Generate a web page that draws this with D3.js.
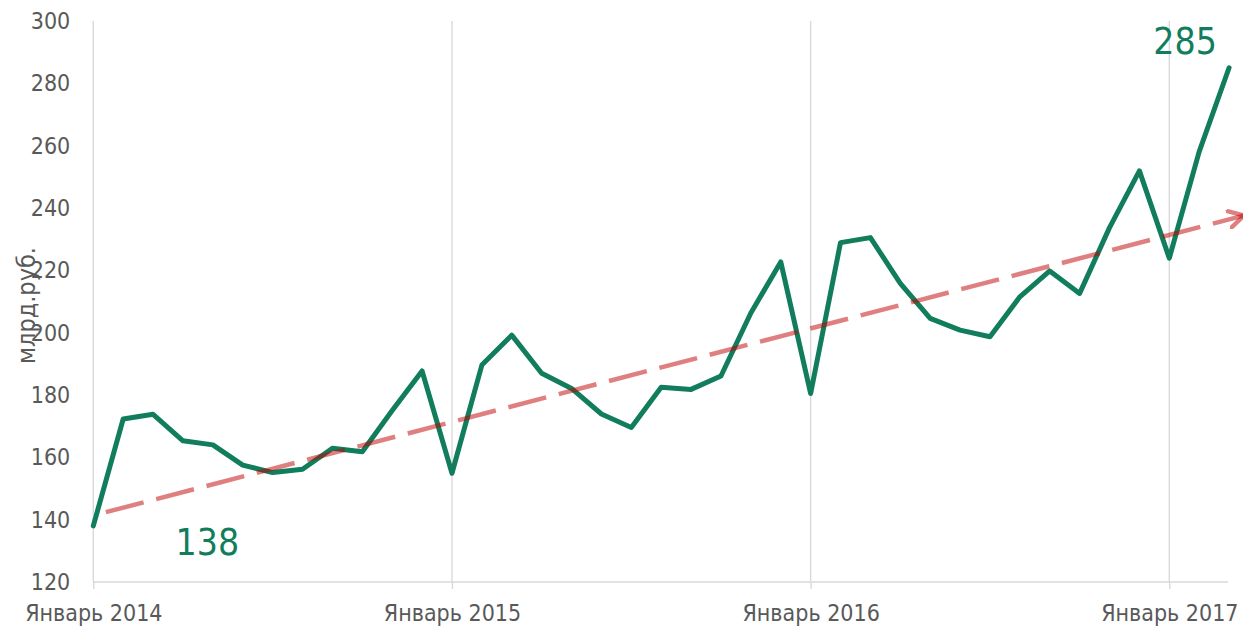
<!DOCTYPE html>
<html>
<head>
<meta charset="utf-8">
<script src="https://cdn.jsdelivr.net/npm/d3@7"></script>
<style>
  html, body { margin: 0; padding: 0; background: #fff; }
  svg { display: block; }
  text { font-family: "DejaVu Sans Condensed", "DejaVu Sans", sans-serif; font-stretch: condensed; }
</style>
</head>
<body>
<svg id="chart" width="1243" height="626"></svg>
<script>
// ---- data ----
const months = [
  "2014-01","2014-02","2014-03","2014-04","2014-05","2014-06","2014-07","2014-08","2014-09","2014-10","2014-11","2014-12",
  "2015-01","2015-02","2015-03","2015-04","2015-05","2015-06","2015-07","2015-08","2015-09","2015-10","2015-11","2015-12",
  "2016-01","2016-02","2016-03","2016-04","2016-05","2016-06","2016-07","2016-08","2016-09","2016-10","2016-11","2016-12",
  "2017-01","2017-02","2017-03"
];
const values = [
  138, 172.3, 173.8, 165.3, 164.0, 157.5, 155.1, 156.2, 162.9, 161.8, 175.0, 187.7,
  154.9, 189.6, 199.2, 187.0, 182.1, 173.9, 169.6, 182.5, 181.8, 186.1, 206.3, 222.7,
  180.5, 228.9, 230.5, 215.8, 204.6, 200.8, 198.7, 211.5, 219.8, 212.6, 233.7, 251.9,
  223.9, 258.1, 285
];
const xTickIndex = [0, 12, 24, 36];
const xTickLabels = ["Январь 2014", "Январь 2015", "Январь 2016", "Январь 2017"];
const yTicks = [120, 140, 160, 180, 200, 220, 240, 260, 280, 300];
const trendIndex = [0.42, 38.5];
const trendValues = [142.4, 237.6];
const yTitle = "млрд.руб.";
const labelIndex = [0, 38];

// ---- layout ----
const svg = d3.select("#chart");
const x = d3.scaleLinear().domain([0, 36]).range([93.3, 1169.3]);
const y = d3.scaleLinear().domain([120, 300]).range([582, 21]);
const green = "#117D5C";
const grid = "#d9d9d9";
const textCol = "#595959";

// vertical gridlines (including left edge)
svg.append("g").selectAll("line").data(xTickIndex).join("line")
  .attr("x1", d => x(d)).attr("x2", d => x(d))
  .attr("y1", y(300)).attr("y2", y(120))
  .attr("stroke", grid).attr("stroke-width", 1.4);

// x axis
const xAxis = d3.axisBottom(x).tickValues(xTickIndex)
  .tickFormat((d, i) => xTickLabels[i]).tickSize(7).tickSizeOuter(0);
const gx = svg.append("g").attr("transform", `translate(0,${y(120)})`).call(xAxis);
gx.select(".domain").attr("d", `M${x(0)},0H1228`).attr("stroke", grid).attr("stroke-width", 1.4);
gx.selectAll(".tick line").attr("stroke", grid).attr("stroke-width", 1.4);
gx.selectAll(".tick text").attr("y", 39).attr("dy", 0)
  .attr("fill", textCol).style("font-size", "23px");

// y axis
const yAxis = d3.axisLeft(y).tickValues(yTicks).tickSize(0).tickPadding(23);
const gy = svg.append("g").attr("transform", `translate(${x(0)},0)`).call(yAxis);
gy.select(".domain").remove();
gy.selectAll(".tick text").attr("fill", textCol).style("font-size", "23px");

// y title
svg.append("text")
  .attr("transform", `translate(35,${(y(120) + y(300)) / 2 + 4}) rotate(-90)`)
  .attr("text-anchor", "middle").attr("fill", textCol).style("font-size", "25px")
  .text(yTitle);

// data line
const line = d3.line().x((d, i) => x(i)).y(d => y(d));
svg.append("path").datum(values)
  .attr("d", line).attr("fill", "none").attr("stroke", green)
  .attr("stroke-width", 5).attr("stroke-linejoin", "round").attr("stroke-linecap", "round");

// trend line with open arrow
const defs = svg.append("defs");
defs.append("marker").attr("id", "arrow")
  .attr("viewBox", "0 0 12 12").attr("refX", 10).attr("refY", 6)
  .attr("markerWidth", 20).attr("markerHeight", 20)
  .attr("markerUnits", "userSpaceOnUse").attr("orient", "auto")
  .append("path").attr("d", "M1,1 L10,6 L1,11")
  .attr("fill", "none").attr("stroke", "#C00000").attr("stroke-opacity", 0.5)
  .attr("stroke-width", 2.6).attr("stroke-linecap", "round");

const trendPts = trendIndex.map((t, i) => [x(t), y(trendValues[i])]);
svg.append("path").datum(trendPts)
  .attr("d", d3.line())
  .attr("fill", "none").attr("stroke", "#C00000").attr("stroke-opacity", 0.5)
  .attr("stroke-width", 4.5).attr("stroke-dasharray", "39,13")
  .attr("marker-end", "url(#arrow)");

// value labels
const labelOffsets = [[114, 29], [-44, -14]];
svg.append("g").selectAll("text").data(labelIndex).join("text")
  .attr("x", (d, i) => x(d) + labelOffsets[i][0])
  .attr("y", (d, i) => y(values[d]) + labelOffsets[i][1])
  .attr("text-anchor", "middle").attr("fill", green).style("font-size", "37px")
  .text(d => Math.round(values[d]));
</script>
</body>
</html>
